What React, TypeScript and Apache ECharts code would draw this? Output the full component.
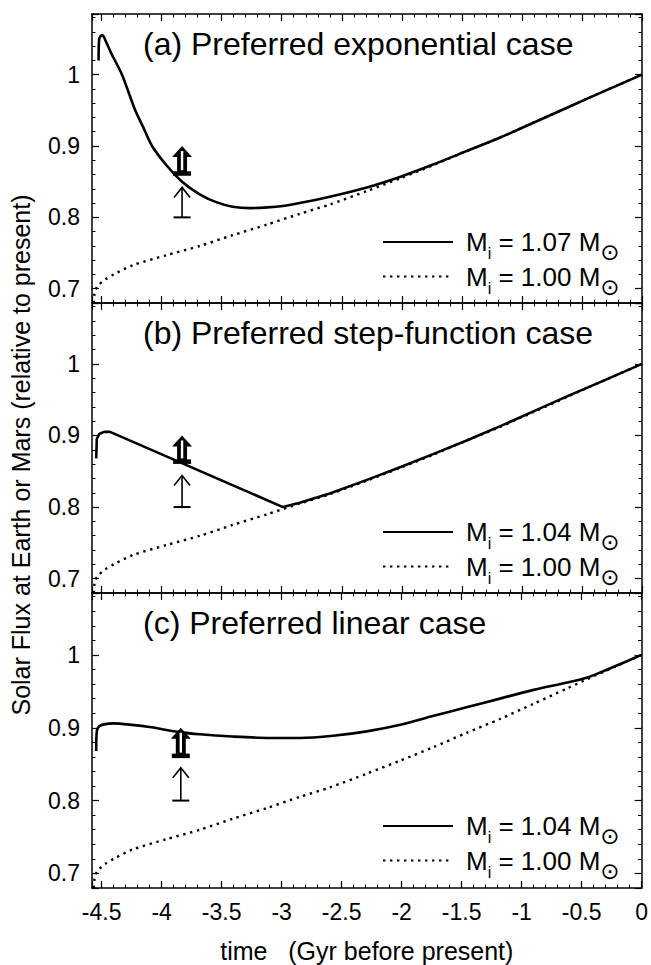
import React, { useEffect, useRef } from 'react';
import * as echarts from 'echarts';

const FONT = "'Liberation Sans', Arial, Helvetica, sans-serif";

// Standard Sun (M_i = 1.00 M_sun), same in all three panels
const stdT = [-4.565, -4.56, -4.55, -4.52, -4.47, -4.4, -4.24, -3.96, -3.68, -3.41, -3.12, -2.85, -2.6, -2.29, -2.01, -1.74, -1.46, -1.18, -0.9, -0.62, -0.45, -0.3, 0];
const stdV = [0.68, 0.692, 0.699, 0.706, 0.713, 0.72, 0.733, 0.747, 0.76, 0.775, 0.79, 0.805, 0.818, 0.837, 0.855, 0.873, 0.893, 0.912, 0.933, 0.954, 0.967, 0.978, 1.0];

// (a) exponential mass loss, M_i = 1.07
const aT = [-4.525, -4.52, -4.5, -4.485, -4.46, -4.42, -4.33, -4.22, -4.15, -4.08, -3.96, -3.83, -3.68, -3.54, -3.41, -3.26, -3.12, -2.99, -2.85, -2.6, -2.29, -2.01, -1.74, -1.46, -1.18, -0.9, -0.62, -0.3, 0];
const aV = [1.02, 1.05, 1.055, 1.054, 1.045, 1.03, 1.0, 0.95, 0.925, 0.9, 0.873, 0.85, 0.832, 0.821, 0.815, 0.813, 0.814, 0.816, 0.82, 0.829, 0.842, 0.857, 0.874, 0.893, 0.912, 0.933, 0.954, 0.978, 1.0];

// (b) step-function mass loss, M_i = 1.04
const bT = [-4.545, -4.54, -4.52, -4.48, -4.43, -2.99, -2.85, -2.6, -2.29, -2.01, -1.74, -1.46, -1.18, -0.9, -0.62, -0.3, 0];
const bV = [0.868, 0.895, 0.902, 0.905, 0.905, 0.8, 0.806, 0.819, 0.838, 0.856, 0.874, 0.893, 0.913, 0.934, 0.955, 0.978, 1.0];

// (c) linear mass loss, M_i = 1.04
const cT = [-4.545, -4.54, -4.52, -4.47, -4.4, -4.25, -4.1, -3.85, -3.68, -3.41, -3.12, -2.85, -2.57, -2.29, -2.01, -1.74, -1.46, -1.18, -0.9, -0.62, -0.45, -0.3, 0];
const cV = [0.868, 0.895, 0.902, 0.905, 0.906, 0.904, 0.901, 0.894, 0.891, 0.888, 0.886, 0.886, 0.889, 0.895, 0.904, 0.916, 0.928, 0.94, 0.952, 0.962, 0.969, 0.979, 1.0];

const panelTitles = ['(a) Preferred exponential case', '(b) Preferred step-function case', '(c) Preferred linear case'];
const panelMasses = ['1.07', '1.04', '1.04'];
const refMass = '1.00';

// arrows: thin (kind 0) and thick (kind 1)
const arrowTime = [-3.83, -3.83, -3.84];
const thinLow = [0.8, 0.8, 0.8];
const thinHigh = [0.842, 0.844, 0.845];
const thickLow = [0.859, 0.861, 0.859];
const thickHigh = [0.9, 0.9, 0.9];

const xName = 'time   (Gyr before present)';
const yName = 'Solar Flux at Earth or Mars (relative to present)';

const X_MIN = -4.58;
const X_MAX = 0;
const Y_MIN = 0.68;
const Y_MAX = 1.085;

const gridTops = [14, 303, 593];
const gridHeights = [289, 290, 295];
const legendTops = [229, 519, 813];
const titleCenters = [44, 333, 623];

const zip = (t: number[], v: number[]) => t.map((x, i) => [x, v[i]]);

export default function App() {
  const ref = useRef<HTMLDivElement>(null);
  useEffect(() => {
    document.body.style.margin = '0';
    const chart = echarts.init(ref.current!, undefined, { renderer: 'svg' });
    const black = '#000';
    const axisLine = { show: true, onZero: false, lineStyle: { color: black, width: 1.5 } };
    const tick = { show: true, inside: true, length: 7, lineStyle: { color: black, width: 1.2 } };
    const minor = { show: true, splitNumber: 5, length: 3.5, lineStyle: { color: black, width: 1 } };
    const mainCurves = [zip(aT, aV), zip(bT, bV), zip(cT, cV)];

    const grid: any[] = [];
    const xAxis: any[] = [];
    const yAxis: any[] = [];
    const series: any[] = [];
    const legend: any[] = [];
    const title: any[] = [];

    for (let i = 0; i < 3; i++) {
      grid.push({ left: 92, right: 9, top: gridTops[i], height: gridHeights[i] });
      xAxis.push({
        type: 'value', gridIndex: i, min: X_MIN, max: X_MAX, splitNumber: 9, position: 'bottom',
        axisLine, axisTick: tick, minorTick: minor, splitLine: { show: false },
        axisLabel: {
          show: i === 2, color: black, fontFamily: FONT, fontSize: 23, margin: 12, showMinLabel: false,
          formatter: (v: number) => { const r = Math.round(v * 2) / 2; return Math.abs(v - r) > 1e-6 ? '' : String(r === 0 ? 0 : r); },
        },
        name: i === 2 ? xName : '', nameLocation: 'middle', nameGap: 50,
        nameTextStyle: { color: black, fontFamily: FONT, fontSize: 25 },
      });
      xAxis.push({
        type: 'value', gridIndex: i, min: X_MIN, max: X_MAX, splitNumber: 9, position: 'top',
        axisLine, axisTick: tick, minorTick: minor, splitLine: { show: false }, axisLabel: { show: false },
      });
      yAxis.push({
        type: 'value', gridIndex: i, min: Y_MIN, max: Y_MAX, splitNumber: 5, position: 'left',
        axisLine, axisTick: tick, minorTick: minor, splitLine: { show: false },
        axisLabel: {
          color: black, fontFamily: FONT, fontSize: 23, margin: 12, showMinLabel: false, showMaxLabel: false,
          formatter: (v: number) => { const r = Math.round(v * 10) / 10; return Math.abs(v - r) > 1e-6 ? '' : String(r); },
        },
      });
      yAxis.push({
        type: 'value', gridIndex: i, min: Y_MIN, max: Y_MAX, splitNumber: 5, position: 'right',
        axisLine, axisTick: tick, minorTick: minor, splitLine: { show: false }, axisLabel: { show: false },
      });

      series.push({
        type: 'line', name: `p${i}_main`, xAxisIndex: 2 * i, yAxisIndex: 2 * i,
        data: mainCurves[i], symbol: 'none', showSymbol: false, smooth: i === 1 ? false : 0.25,
        lineStyle: { color: black, width: 2.6 }, itemStyle: { color: black }, z: 3,
      });
      series.push({
        type: 'line', name: `p${i}_ref`, xAxisIndex: 2 * i, yAxisIndex: 2 * i,
        data: zip(stdT, stdV), symbol: 'none', showSymbol: false, smooth: 0.25,
        lineStyle: { color: black, width: 2.4, type: [2.4, 4.6] }, itemStyle: { color: black }, z: 2,
      });
      series.push({
        type: 'custom', xAxisIndex: 2 * i, yAxisIndex: 2 * i, z: 5,
        data: [
          [arrowTime[i], thinLow[i], thinHigh[i], 0],
          [arrowTime[i], thickLow[i], thickHigh[i], 1],
        ],
        renderItem: (params: any, api: any) => {
          const t = api.value(0);
          const p0 = api.coord([t, api.value(1)]);
          const p1 = api.coord([t, api.value(2)]);
          const x = p0[0], yb = p0[1], yt = p1[1];
          if (api.value(3) === 0) {
            return {
              type: 'group', children: [
                { type: 'line', shape: { x1: x, y1: yb, x2: x, y2: yt + 1 }, style: { stroke: black, lineWidth: 1.6 } },
                { type: 'line', shape: { x1: x - 8.5, y1: yb, x2: x + 8.5, y2: yb }, style: { stroke: black, lineWidth: 2 } },
                { type: 'polyline', shape: { points: [[x - 8, yt + 10], [x, yt], [x + 8, yt + 10]] }, style: { stroke: black, lineWidth: 1.6, fill: null } },
              ],
            };
          }
          return {
            type: 'group', children: [
              { type: 'rect', shape: { x: x - 9, y: yb - 4, width: 18, height: 4.5 }, style: { fill: black } },
              { type: 'rect', shape: { x: x - 5, y: yt + 9, width: 10, height: yb - yt - 11 }, style: { fill: black } },
              { type: 'polygon', shape: { points: [[x - 10, yt + 11], [x, yt], [x + 10, yt + 11]] }, style: { fill: black } },
              { type: 'line', shape: { x1: x, y1: yt + 5, x2: x, y2: yb - 5 }, style: { stroke: '#fff', lineWidth: 2.4 } },
            ],
          };
        },
      });

      legend.push({
        left: 382, top: legendTops[i], orient: 'vertical', padding: 0, itemGap: 0,
        itemWidth: 70, itemHeight: 14, selectedMode: false,
        itemStyle: { opacity: 0 },
        data: [`p${i}_main`, `p${i}_ref`],
        formatter: (name: string) => {
          const k = Number(name[1]);
          const mass = name.endsWith('main') ? panelMasses[k] : refMass;
          return `{sp|}{m|M}{s|i}{m| = ${mass} M}{o|\u2299}`;
        },
        textStyle: {
          color: black, fontFamily: FONT, fontSize: 26,
          rich: {
            sp: { width: 8 },
            m: { fontSize: 26, lineHeight: 26, fontFamily: FONT, color: black },
            s: { fontSize: 16, height: 3, verticalAlign: 'bottom', fontFamily: FONT, color: black },
            o: { fontSize: 23, height: 6, verticalAlign: 'bottom', fontFamily: "'DejaVu Sans', sans-serif", color: black },
          },
        },
      });

      title.push({
        text: panelTitles[i], left: 143, top: titleCenters[i] - 18, padding: 0,
        textStyle: { color: black, fontFamily: FONT, fontSize: 32, fontWeight: 'normal', lineHeight: 36 },
      });
    }

    chart.setOption({
      animation: false,
      backgroundColor: '#fff',
      grid, xAxis, yAxis, series, legend, title,
      graphic: [
        {
          type: 'text', x: 21, y: 455, rotation: Math.PI / 2,
          style: { text: yName, fill: black, font: `25px ${FONT}`, textAlign: 'center', textVerticalAlign: 'middle' },
        },
      ],
    });
    return () => chart.dispose();
  }, []);
  return <div ref={ref} style={{ position: 'fixed', left: 0, top: 0, width: 651, height: 965 }} />;
}
